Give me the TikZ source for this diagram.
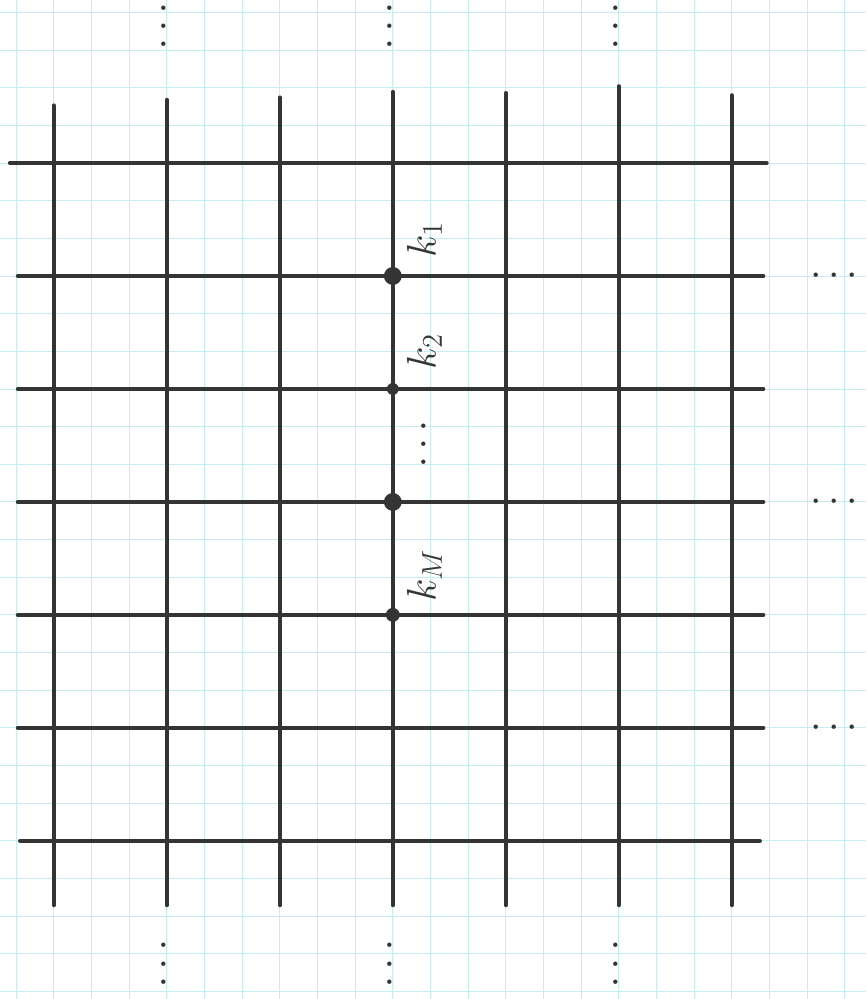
\documentclass[tikz,border=0pt]{standalone}
\usepackage{amsmath}
\usetikzlibrary{positioning}

\definecolor{paperline}{RGB}{198,238,242}
\definecolor{penink}{RGB}{52,52,52}

\tikzset{
    paper/.style={draw=paperline, line width=0.45pt},
    wire/.style={draw=penink, line width=2pt, line cap=round},
    site/.style={circle, fill=penink, inner sep=0pt},
    klabel/.style={rotate=90, text=penink, font=\huge},
    more/.style={text=penink, font=\huge, inner sep=0.5pt},
    vmore/.style={more, rotate=-90}
}

\begin{document}
\begin{tikzpicture}[x=2cm, y=2cm]
    % Paper
    \useasboundingbox (-0.477,-7.40) rectangle (7.19,1.443);
    \fill[white] (-0.477,-7.40) rectangle (7.19,1.443);
    \draw[paper] (-0.477,-7.40) grid[step=1/3] (7.19,1.443);

    % Vertical lines
    \foreach \i/\t in {0/0.51, 1/0.56, 2/0.58, 3/0.63, 4/0.62, 5/0.68, 6/0.60}
        \draw[wire] (\i,\t) -- (\i,-6.57);

    % Horizontal lines
    \draw[wire] (-0.39,0) -- (6.31,0);
    \foreach \j in {1,...,5}
        \draw[wire] (-0.32,-\j) -- (6.28,-\j);
    \draw[wire] (-0.30,-6) -- (6.25,-6);

    % Sites on the middle column
    \node[site, minimum size=9pt] (d1) at (3,-1) {};
    \node[site, minimum size=6pt] (d2) at (3,-2) {};
    \node[site, minimum size=9pt] (d3) at (3,-3) {};
    \node[site, minimum size=7pt] (d4) at (3,-4) {};

    % Labels
    \node[klabel] (k1) at (3.28,-0.68) {$k_1$};
    \node[klabel] (k2) at (3.28,-1.67) {$k_2$};
    \node[vmore]  (kdots) at (3.26,-2.52) {$\cdots$};
    \node[klabel] (kM) at (3.28,-3.65) {$k_M$};

    % Continuation dots
    \foreach \i in {1,3,5} {
        \node[vmore] (top\i) at (\i-0.04,1.18) {$\cdots$};
        \node[vmore] (bot\i) at (\i-0.04,-7.12) {$\cdots$};
        \node[more] (right\i) at (6.94,-\i) {$\cdots$};
    }
\end{tikzpicture}
\end{document}
